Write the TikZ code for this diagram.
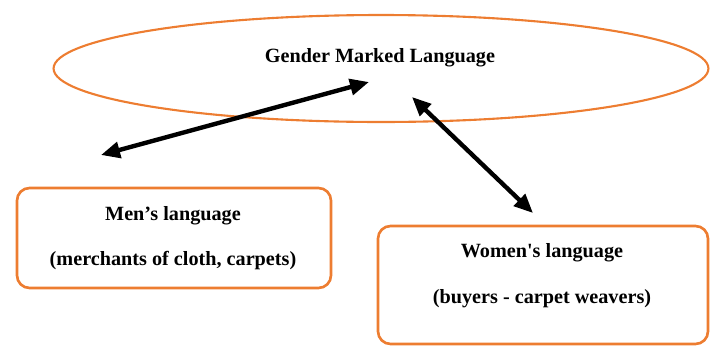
\documentclass[tikz,border=0pt]{standalone}
\usepackage{amsmath}
\usepackage{xcolor}
\usepackage{fontspec}
\setmainfont{Liberation Serif}
\usetikzlibrary{shapes.geometric,arrows.meta}
\definecolor{orng}{RGB}{237,125,49}

\begin{document}
\begin{tikzpicture} [x = 0.02cm, y = -0.02cm,
	lbl/.style = {font=\bfseries\fontsize{11.5}{13}\selectfont, align=center},
	box/.style = {draw=orng, line width=1.5pt, rounded corners=0.25cm, inner sep=0pt},
	dbl/.style = {{Triangle[length=3.8mm,width=3.2mm]}-{Triangle[length=3.8mm,width=3.2mm]}, line width=2.5pt}]
		\useasboundingbox (0, 0) rectangle (710, 359);
		\node[ellipse, draw=orng, line width=1.2pt, inner sep=0pt, minimum width=13.1cm, minimum height=2.14cm] (gml) at (381, 68.5) {};
			\node[lbl] (gmltxt) at (380, 58) {Gender Marked Language};
		\node[box, minimum width=6.28cm, minimum height=2cm] (men) at (174, 238) {};
			\node[lbl] (mentxt) at (173, 238) {Men’s language\\[13pt](merchants of cloth, carpets)};
		\node[box, minimum width=6.6cm, minimum height=2.36cm] (women) at (543, 285) {};
			\node[lbl] (womentxt) at (542, 275.5) {Women\textquotesingle s language\\[13pt](buyers - carpet weavers)};
		% arrow ends
		\coordinate (m1) at (101, 155);
		\coordinate (m2) at (369, 82);
		\coordinate (w1) at (412, 97);
		\coordinate (w2) at (533, 213);
				\draw[dbl] (m1) -- (m2);
				\draw[dbl] (w1) -- (w2);
%	\draw[help lines, step = 50] (0, 0) grid (710, 359);
	\end{tikzpicture}
\end{document}
